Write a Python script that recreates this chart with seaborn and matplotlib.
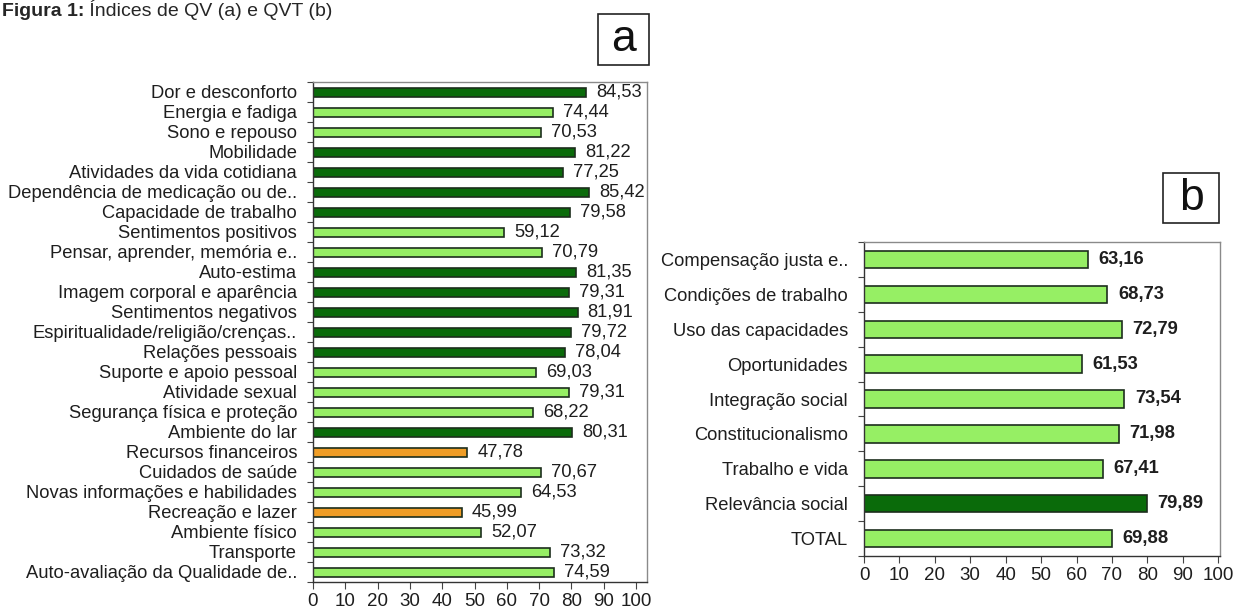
import matplotlib
matplotlib.use("Agg")
import matplotlib.pyplot as plt
from matplotlib.patches import Rectangle
from matplotlib.ticker import FixedLocator
import seaborn as sns
import pandas as pd

# panel a - QV domains
qv_labels = ["Dor e desconforto", "Energia e fadiga", "Sono e repouso", "Mobilidade",
             "Atividades da vida cotidiana", "Dependência de medicação ou de..",
             "Capacidade de trabalho", "Sentimentos positivos", "Pensar, aprender, memória e..",
             "Auto-estima", "Imagem corporal e aparência", "Sentimentos negativos",
             "Espiritualidade/religião/crenças..", "Relações pessoais", "Suporte e apoio pessoal",
             "Atividade sexual", "Segurança física e proteção", "Ambiente do lar",
             "Recursos financeiros", "Cuidados de saúde", "Novas informações e habilidades",
             "Recreação e lazer", "Ambiente físico", "Transporte",
             "Auto-avaliação da Qualidade de.."]
qv_values = [84.53, 74.44, 70.53, 81.22, 77.25, 85.42, 79.58, 59.12, 70.79, 81.35, 79.31,
             81.91, 79.72, 78.04, 69.03, 79.31, 68.22, 80.31, 47.78, 70.67, 64.53, 45.99,
             52.07, 73.32, 74.59]
qv_groups = ["alto", "medio", "medio", "alto", "alto", "alto", "alto", "medio", "medio",
             "alto", "alto", "alto", "alto", "alto", "medio", "medio", "medio", "alto",
             "baixo", "medio", "medio", "baixo", "medio", "medio", "medio"]

# panel b - QVT criteria
qvt_labels = ["Compensação justa e..", "Condições de trabalho", "Uso das capacidades",
              "Oportunidades", "Integração social", "Constitucionalismo",
              "Trabalho e vida", "Relevância social", "TOTAL"]
qvt_values = [63.16, 68.73, 72.79, 61.53, 73.54, 71.98, 67.41, 79.89, 69.88]
qvt_groups = ["medio", "medio", "medio", "medio", "medio", "medio", "medio", "alto", "medio"]

palette = {"alto": "#0a6b0a", "medio": "#96ef64", "baixo": "#ef9d26"}

sns.set_style("white")
plt.rcParams["font.family"] = ["Liberation Sans", "DejaVu Sans"]

W, H = 1236, 612
fig = plt.figure(figsize=(W / 100, H / 100), dpi=100)


def fig_rect(left, top, right, bottom):
    return [left / W, 1 - bottom / H, (right - left) / W, (bottom - top) / H]


def draw_panel(ax, labels, values, groups, xmax, width, bold):
    df = pd.DataFrame({"label": labels, "value": values, "grp": groups})
    sns.barplot(data=df, x="value", y="label", hue="grp", palette=palette, dodge=False,
                saturation=1, width=width, edgecolor="#1c2e1c", linewidth=1.2,
                legend=False, ax=ax)
    n = len(labels)
    ax.set_xlim(0, xmax)
    ax.set_ylim(n - 0.5, -0.5)
    ax.set_xticks(range(0, 101, 10))
    ax.set_xlabel("")
    ax.set_ylabel("")
    ax.yaxis.set_minor_locator(FixedLocator([i - 0.5 for i in range(n + 1)]))
    ax.tick_params(axis="y", which="major", length=0, pad=11.5, labelsize=13.2,
                   labelcolor="#1e1e1e")
    ax.tick_params(axis="y", which="minor", left=True, length=4, width=0.8, color="#444444")
    ax.tick_params(axis="x", which="major", bottom=True, length=5, width=0.8,
                   color="#444444", labelsize=13.5, pad=3, labelcolor="#1e1e1e")
    for side in ["top", "right"]:
        ax.spines[side].set_color("#8a8a8a")
    for side in ["left", "bottom"]:
        ax.spines[side].set_color("#333333")
    for sp in ax.spines.values():
        sp.set_linewidth(1.0)
    for i, v in enumerate(values):
        ax.text(v + xmax * 0.03, i, f"{v:.2f}".replace(".", ","), va="center", ha="left",
                fontsize=13.2, fontweight="bold" if bold else "normal", color="#1e1e1e")


ax_a = fig.add_axes(fig_rect(313, 82, 647, 582))
draw_panel(ax_a, qv_labels, qv_values, qv_groups, 103.4, 0.45, False)

ax_b = fig.add_axes(fig_rect(864, 242, 1220, 556))
draw_panel(ax_b, qvt_labels, qvt_values, qvt_groups, 100.5, 0.5, True)

# panel letters in boxes
for letter, (l, t, r, b) in [("a", (598, 14, 649, 65)), ("b", (1163, 173, 1219, 223))]:
    fig.patches.append(Rectangle((l / W, 1 - b / H), (r - l) / W, (b - t) / H,
                                 transform=fig.transFigure, fill=False,
                                 edgecolor="#222222", linewidth=1.2))
    fig.text((l + r) / 2 / W, 1 - (t + b) / 2 / H, letter, ha="center", va="center",
             fontsize=32, color="#111111")

# figure caption at the top edge
base_y = 1 - 16 / H
t1 = fig.text(2 / W, base_y, "Figura 1:", fontsize=14, fontweight="bold",
              va="baseline", ha="left")
renderer = fig.canvas.get_renderer()
bb = t1.get_window_extent(renderer=renderer)
fig.text(bb.x1 / W, base_y, " Índices de QV (a) e QVT (b)", fontsize=14,
         va="baseline", ha="left")

fig.savefig("out.png", dpi=100)
